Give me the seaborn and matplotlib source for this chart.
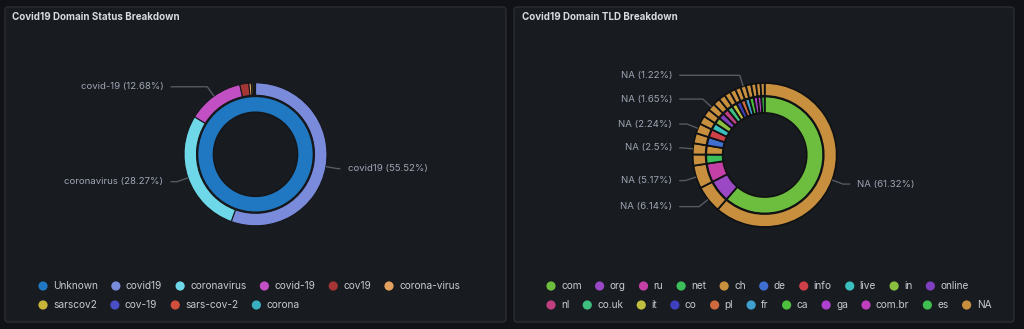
import numpy as np
import pandas as pd
import matplotlib
matplotlib.use("Agg")
import matplotlib.pyplot as plt
import seaborn as sns
from matplotlib.patches import FancyBboxPatch, Circle

# ---------------- data ----------------
status_inner_labels = ["Unknown"]
status_inner_values = [100.0]
status_outer_labels = ["covid19", "coronavirus", "covid-19", "cov19", "corona-virus",
                       "sarscov2", "cov-19", "sars-cov-2", "corona"]
status_outer_values = [55.52, 28.27, 12.68, 2.05, 0.55, 0.35, 0.25, 0.20, 0.13]
status_inner_colors = ["#1f78c1"]
status_outer_colors = ["#7b8bdc", "#6fd8e8", "#c250c4", "#a63636", "#e3a160",
                       "#c9b43a", "#4a4ec6", "#cf4f3c", "#3aafbf"]

tld_labels = ["com", "org", "ru", "net", "ch", "de", "info", "live", "in", "online",
              "nl", "co.uk", "it", "co", "pl", "fr", "ca", "ga", "com.br", "es"]
tld_values = [61.32, 6.14, 5.17, 2.49, 2.50, 2.30, 2.24, 1.90, 1.80, 1.65,
              1.60, 1.50, 1.40, 1.30, 1.25, 1.22, 1.20, 1.10, 1.00, 0.92]
tld_colors = ["#6dbe3f", "#9a48c4", "#c43fa6", "#3cbf5a", "#c8913e", "#3f6fd1",
              "#cf4048", "#3bbfbf", "#8bbf3f", "#7f3fbf", "#c03f80", "#3fbf80",
              "#bfbf3f", "#3f3fbf", "#cf6a3f", "#3f9fcf", "#4fbf3f", "#af3fcf",
              "#bf3fbf", "#3fbf4f"]
tld_outer_labels = ["NA"] * len(tld_values)
tld_outer_values = list(tld_values)
na_color = "#c8903e"

W, H = 1024, 329
BG = "#111217"
PANEL = "#181b1f"
BORDER = "#2a2d33"
TXT = "#c7c9d1"
LBL = "#9ea5b4"
LINE = "#555a63"

sns.set_theme(style="dark", rc={"figure.facecolor": BG, "axes.facecolor": BG})
plt.rcParams["font.family"] = ["Inter", "DejaVu Sans"]

fig = plt.figure(figsize=(W / 100, H / 100), dpi=100)
ax = fig.add_axes([0, 0, 1, 1])


def Y(y):
    return H - y


def fix_limits():
    ax.set_xlim(0, W)
    ax.set_ylim(0, H)
    ax.set_aspect("auto")


def panel(x0, y0, x1, y1, title):
    ax.add_patch(FancyBboxPatch((x0, Y(y1)), x1 - x0, y1 - y0,
                                boxstyle="round,pad=0,rounding_size=3",
                                facecolor=PANEL, edgecolor=BORDER, lw=1, zorder=0))
    ax.text(x0 + 7.5, Y(y0 + 10), title, color="#d8dae0", fontsize=7.05,
            fontweight="bold", ha="left", va="center", zorder=5)


def ring(cx, cy, r, width, values, colors, ec, lw):
    ax.pie(values, colors=sns.color_palette(colors), radius=r, center=(cx, Y(cy)),
           startangle=90, counterclock=False,
           wedgeprops=dict(width=width, edgecolor=ec, linewidth=lw), frame=True)


def labels(cx, cy, r_out, names, values, min_gap=22):
    total = float(sum(values))
    cum = 0.0
    items = []
    for i, (n, v) in enumerate(zip(names, values)):
        mid = (cum + v / 2) / total * 360
        cum += v
        th = np.radians(90 - mid)
        c, s = np.cos(th), np.sin(th)
        x0, y0 = cx + r_out * c, Y(cy) + r_out * s
        x1, y1 = cx + (r_out + 11.5) * c, Y(cy) + (r_out + 11.5) * s
        side = 1 if c >= 0 else -1
        items.append((v, i, n, x0, y0, x1, y1, side))
    order = sorted(items, key=lambda t: -t[0])
    shown = []
    for it in order:
        if any(o[7] == it[7] and abs(o[6] - it[6]) < min_gap for o in shown):
            continue
        shown.append(it)
    for v, i, n, x0, y0, x1, y1, side in shown:
        xe = cx + side * (r_out + 13.5)
        ax.plot([x0, x1, xe], [y0, y1, y1], color=LINE, lw=1, zorder=3,
                solid_capstyle="butt")
        pct = f"{round(v / total * 100, 2):g}"
        ax.text(xe + side * 7, y1, f"{n} ({pct}%)", color=LBL, fontsize=6.95,
                ha="left" if side > 0 else "right", va="center", zorder=5)


def legend(x0, rows_y, right_limit, names, colors):
    rend = fig.canvas.get_renderer()
    x = x0
    row = 0
    for n, col in zip(names, colors):
        t = ax.text(x + 10, Y(rows_y[row]), n, color=TXT, fontsize=7.3,
                    ha="left", va="center", zorder=5)
        w = t.get_window_extent(renderer=rend).width
        if x + 10 + w > right_limit and x != x0:
            row = min(row + 1, len(rows_y) - 1)
            x = x0
            t.set_position((x + 10, Y(rows_y[row])))
        ax.add_patch(Circle((x, Y(rows_y[row])), 4.6, facecolor=col,
                            edgecolor="none", zorder=5))
        x = x + 10 + w + 18


# panels
panel(5, 7, 506, 322, "Covid19 Domain Status Breakdown")
panel(514, 7, 1014, 322, "Covid19 Domain TLD Breakdown")

# left chart
lcx, lcy = 255.5, 154.3
ring(lcx, lcy, 58, 16, status_inner_values, status_inner_colors, "#15171b", 1.2)
ring(lcx, lcy, 71.5, 12.5, status_outer_values, status_outer_colors, "#15171b", 0.8)

# right chart
rcx, rcy = 764.7, 155
ring(rcx, rcy, 58.5, 16.5, tld_values, tld_colors, "#111214", 1.3)
ring(rcx, rcy, 72, 13, tld_outer_values, [na_color] * len(tld_outer_values), "#111214", 1.3)

fix_limits()
ax.axis("off")

labels(lcx, lcy, 71.5, status_outer_labels, status_outer_values)
legend(43, [286, 305], 486, status_inner_labels + status_outer_labels,
       status_inner_colors + status_outer_colors)
labels(rcx, rcy, 72, tld_outer_labels, tld_outer_values)
legend(551, [286, 305], 998, tld_labels + ["NA"], tld_colors + [na_color])

fix_limits()
fig.savefig("out.png", dpi=100, facecolor=BG)
